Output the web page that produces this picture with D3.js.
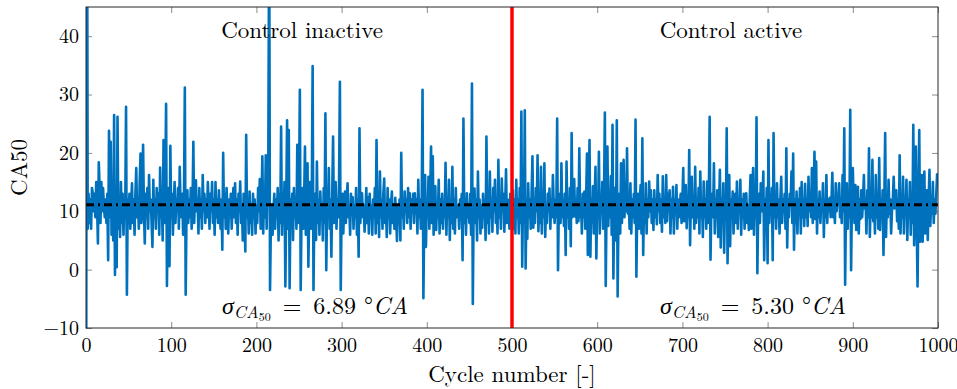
<!DOCTYPE html>
<html>
<head>
<meta charset="utf-8">
<script src="https://cdn.jsdelivr.net/npm/d3@7"></script>
<style>
  body { margin: 0; background: #fff; }
</style>
</head>
<body>
<div id="container"></div>
<script>
// CA50 per cycle (cycles 0-499: control off, 500-999: control on)
const ca50Inactive = [
  -60, 90, 7, 13, 8, 12, 7, 14, 13, 10, 13, 9, 15, 11, 4.5, 18.4, 14, 8, 15, 10, 14, 11, 9, 12, 8, 13, 1.6, 23.8, 9, 21.9, 6, 12, 5, 26.5, -0.9, 14, 0.4, 26.2, 7, 12, 5.6, 15, 8, 13, 6, 11, 9, 27.9, -4.3, 12,
  9, 13, 7, 11, 14.8, 8, 12, 6, 13, 17.4, 9, 12, 7, 15, 19.9, 8, 11, 21.4, 10, 4.5, 13, 9, 14, 7, 16.2, 10, 12, 8, 3.9, 15.4, 9, 12, 7, 14, 10, 13, 6, 17.5, 9, 12, 5, 22.2, 8, 13, 28.4, -2.8, 10, 14, 0.6, 21.2,
  9, 13, 6, 11, 15, 8, 12, 10, 14, 7, 17.6, 11, 9, 13, 6, 12, 31.2, -4.3, 10, 13.6, 8, 12, 9, 14, 7, 11, 21.9, 8, 13, 15.3, 10, 12, 6.2, 14, 9, 12, 7, 16.2, 10, 13, 8, 12, 9, 15, 11, 7, 13, 10, 15, 8,
  12, 6, 15, 9, 12, 8, 13.6, 10, 7, 12, 3.4, 20, 9, 13, 7, 14, 10, 6.2, 12, 9, 13, 7, 11, 14, 9, 14.8, 8, 12, 6, 13, 10, 15.1, 8, 11, 5, 13, 9, 3.1, 23.1, 9, 12, 6.2, 13.4, 8, 11, 6, 13, 9, 12, 6.2,
  11, 8, 14, 10, 15.5, 7, 12, 19.4, 6.2, 13, 9, 19.6, 7, 14, 19.6, 60, -3.5, 8, 11, 6, 10.2, 13, 7, 12, 9, 14, 5, 13, 8, 24.5, 6, 12, 9, 15, -2.9, 11, 25.6, 7, 23.9, -3.2, 12, 8, 13, 5.1, 14, 9, 12, 7, 21.4, 8,
  13, 30.8, -3.5, 10, 14, 7, 12, 21.1, 6, 13, 18.2, 0.5, 11, 15, 7, 12, 34.9, -3.5, 10, 13, 5.1, 18.5, 8, 12, 6, 13.4, 9, 11, 5, 14, 8, 26.8, -0.1, 12, 9, 17.4, 7, 12, 2.2, 13, 22.8, 8, 11, 15, 7, 12, 9, 14.8, 32.2, -3.5,
  10, 13, 6.2, 11, 13.4, 8, 12, 14.8, 9, 11, 6, 13, 10, 12.4, 7, 11, 9, 14, 6, 12, 2.2, 24.2, 8, 12, 13.1, 9, 11, 6.5, 10, 14, 8, 12.4, 6.2, 13, 9, 11, 6, 12, 9, 14, 6.2, 22.2, 8, 12, 5.6, 16.8, 9, 12, 7, 13,
  15.6, 8, 11, 5.6, 14, 9, 12, 6.2, 11, 13.4, 8, 11, 7, 12.3, 9, 4.9, 11, 8, 12, 5, 20, 9, 12, 7, 13.4, 10, 12, 8, 14, 9, 13.1, 7, 12, 10, 13, 8, 13.1, 9.6, 12, 6.2, 15.4, 9, 12, 7, 11, 30.8, -4.9, 9, 16.2, 3.9,
  12, 9, 15.9, 7, 13, 21.1, 8, 19.4, 6, 12, 14.3, 6.8, 11, 9, 15.4, 6.2, 12, 8, 13, 7, 11, 9, 18.3, 6, 12, 9, 15.4, 5.1, 12, 8, 17.6, 7, 12, 6.2, 14, 9, 11, 10.5, 7, 12, 9, 13, 1.6, 25.9, 8, 12, 6, 13.1, 9, 11,
  8, 13, 6, 31.9, -5.9, 11, 13.9, 8, 12, 5, 16.8, 9, 12, 6.2, 11, 7.2, 13, 9, 12, 5.1, 22.8, 8, 12, 6.2, 16.8, 9, 12, 6.5, 14, 10, 15.4, 8, 12, 6.2, 18.8, 9, 12, 7, 15.6, 10, 13, 6.5, 11, 17.2, 8, 12, 10.9, 7, 13, 11
];
const ca50Active = [
  8, 13.6, 7, 12, 6.2, 15.4, 9, 12, 6.2, 14, 8, 27.1, 0.5, 13, 8, 27.3, 0.2, 12, 5.3, 14.8, 9, 12, 7, 13, 19.4, 7.2, 12, 8, 14, 10, 19.6, 6.6, 12, 8, 17.6, 6.2, 13, 9, 18.2, 5.6, 11, 8, 13, 10, 13.9, 7, 12, 9, 16.2, 10.9,
  8, 12, 9, 25.9, -0.1, 11, 13, 8, 18.2, 9, 12, 7.5, 13, 2.5, 18.5, 9, 12, 7, 14, 4, 23.4, 9, 12, 15.5, 9.1, 12, 8, 14, 8.3, 20.8, 9, 12, 6.2, 13, 9, 13.4, 7, 12, 19.9, 2.5, 14, 22.2, 2.2, 12, 8, 14.3, 6.2, 12, 17.6, 1.9,
  12, 9, 20.2, 6.2, 12, 10, 15, 7, 13, 26.9, -2.8, 11, 21.1, 7.5, 13, 9, 16, 6, 24.8, -1.5, 12, 14, 5, 25.6, -4.6, 10, 13, 6.2, 18.2, 8, 12, 18.8, 9, 13, 10, 20.8, 9.6, 12, 7, 14.8, 6.2, 12, 9, 13, 8, 25.7, -1.2, 11, 13, 7,
  12, 14.5, 6.2, 22.5, 2.5, 12, 8, 14.8, 6.2, 12, 9, 15.1, 10, 13.6, 8, 12, 6.8, 13.6, 9, 12, 7.8, 16.2, 10, 13, 8, 12, 6.5, 16, 9, 12, 8, 16.2, 8.3, 13, 10, 13.6, 6.2, 12, 9, 14.2, 6.2, 12, 10, 14.5, 7, 12, 9, 11, 13, 8,
  12, 17.4, 8.3, 12, 14.5, 7.1, 11, 9, 20.5, 4.2, 12, 15.9, 9, 12, 7, 17.6, 8, 12, 9, 14, 6.2, 16.8, 9, 12, 5.6, 15.1, 9, 12, 7, 15.1, 8, 12, 26.2, 1.7, 11, 13, 9, 18.2, 6.2, 12, 9, 13.6, 5.6, 11, 17.1, 3.8, 12, 9, 14.8, 2.9,
  12, 9, 24.2, 1.1, 11, 16.2, 4, 12, 9, 13.4, 6.2, 11, 13, 8, 15.1, 7, 12, 10, 15.4, 6, 12, 9, 13, 7, 12, 13.1, 8, 11, 6.8, 12, 16.2, 7, 12, 17.4, 6, 12, 9, 26.1, -0.6, 11, 13, 8, 14.8, 10, 12, 16.8, 1.6, 12, 9, 14,
  1.1, 22.2, 8, 12, 10, 14, 1.6, 23.4, 9, 12, 7, 14.8, 9, 12, 6.2, 12, 15.9, 8, 12, 10, 13, 7, 20.8, 3.8, 12, 9, 13, 11, 16.8, 8, 19.9, 3.4, 12, 8, 13.4, 6.2, 12, 9.6, 14, 6.2, 15, 9, 12, 7.5, 14.7, 9, 12, 7.5, 15.9, 10,
  13, 9, 17.4, 8, 12, 20.2, 8.7, 18.5, 6.2, 12, 9, 13.4, 8, 12, 10.5, 14.8, 5.6, 12, 9, 16.2, 8, 12, 10, 12.3, 9, 12, 16.6, 9, 12, 8, 14.8, 10, 12, 11.5, 14.8, 9, 12, 8, 16.2, 10, 24.2, -2.6, 11, 14.8, 7, 12, 9, 27.4, -0.1, 12,
  17.4, 11.5, 8, 14.5, 6.8, 12, 14.2, 6.2, 12, 8.7, 13.6, 9, 12, 16.2, 10.5, 12, 6.2, 13.6, 9, 20.8, 5.6, 12, 9, 18.8, 8.3, 12, 6.2, 16.2, 9, 12, 7, 19.1, 6.8, 12, 9, 13.6, 2.5, 12, 23.4, 5.6, 12, 9, 15.4, 9.6, 12, 6.2, 10.2, 12, 15.9, 10.5,
  12, 13.6, 8.3, 12, 7, 19.6, 6.2, 12, 9, 15.9, 6.2, 12, 10, 15.4, 5.1, 12, 9, 15, 6, 12, 8, 24.8, 4.2, 12, 21.1, 8, -2.9, 12, 23.9, 4.8, 12, 16.2, 4.8, 12, 16.8, 6.2, 12, 13.6, 5.1, 12, 17.1, 7.5, 12, 9.6, 15, 8, 12, 9.6, 13, 16.5
];
const meanCA50 = 11.1;
const controlStart = 500;
const xTicks = [0, 100, 200, 300, 400, 500, 600, 700, 800, 900, 1000];
const yTicks = [-10, 0, 10, 20, 30, 40];
const phaseLabels = ["Control inactive", "Control active"];
const sigmaValues = ["6.89", "5.30"];

const ca50 = ca50Inactive.concat(ca50Active);

const width = 957, height = 389;
const plotL = 86, plotR = 938, plotT = 7, plotB = 328;
const lm = "Latin Modern Roman";

const svg = d3.select("#container").append("svg")
  .attr("width", width)
  .attr("height", height);

const x = d3.scaleLinear().domain([0, 1000]).range([plotL, plotR]);
const y = d3.scaleLinear().domain([-10, 45]).range([plotB, plotT]);

svg.append("clipPath").attr("id", "plotclip")
  .append("rect")
  .attr("x", plotL).attr("y", plotT)
  .attr("width", plotR - plotL).attr("height", plotB - plotT);

// ticks on all four sides, pointing inward
const tickCol = "#8c8c8c";
let gx = svg.append("g")
  .attr("transform", `translate(0,${plotB})`)
  .call(d3.axisBottom(x).tickValues(xTicks).tickSize(-6).tickPadding(10).tickFormat(d3.format("d")));
let gxTop = svg.append("g")
  .attr("transform", `translate(0,${plotT})`)
  .call(d3.axisTop(x).tickValues(xTicks).tickSize(-6).tickFormat(""));
let gy = svg.append("g")
  .attr("transform", `translate(${plotL},0)`)
  .call(d3.axisLeft(y).tickValues(yTicks).tickSize(-6).tickPadding(7).tickFormat(d => d < 0 ? "\u2212" + Math.abs(d) : d));
let gyRight = svg.append("g")
  .attr("transform", `translate(${plotR},0)`)
  .call(d3.axisRight(y).tickValues(yTicks).tickSize(-6).tickFormat(""));

[gx, gxTop, gy, gyRight].forEach(g => {
  g.attr("font-family", lm).attr("font-size", 20);
  g.select(".domain").remove();
  g.selectAll(".tick line").attr("stroke", tickCol).attr("stroke-width", 1);
  g.selectAll(".tick text").attr("font-family", lm).attr("font-size", 20).attr("fill", "#000");
});

const plot = svg.append("g").attr("clip-path", "url(#plotclip)");

const line = d3.line()
  .x((d, i) => x(i))
  .y(d => y(d));

plot.append("path")
  .datum(ca50)
  .attr("fill", "none")
  .attr("stroke", "#0072BD")
  .attr("stroke-width", 2.6)
  .attr("stroke-linejoin", "round")
  .attr("d", line);

// mean value, dash-dot
plot.append("line")
  .attr("x1", x(0)).attr("x2", x(1000))
  .attr("y1", y(meanCA50)).attr("y2", y(meanCA50))
  .attr("stroke", "#000")
  .attr("stroke-width", 3)
  .attr("stroke-dasharray", "8,4,2,4");

// control switch-on
plot.append("line")
  .attr("x1", x(controlStart)).attr("x2", x(controlStart))
  .attr("y1", plotT).attr("y2", plotB)
  .attr("stroke", "#ff0000")
  .attr("stroke-width", 3.5);

// box
svg.append("rect")
  .attr("x", plotL).attr("y", plotT)
  .attr("width", plotR - plotL).attr("height", plotB - plotT)
  .attr("fill", "none")
  .attr("stroke", "#262626")
  .attr("stroke-width", 1);

// phase labels
const centers = [x(250) + 3, x(750) + 6];
phaseLabels.forEach((t, i) => {
  svg.append("text")
    .attr("x", centers[i]).attr("y", 38)
    .attr("text-anchor", "middle")
    .attr("font-family", lm)
    .attr("font-size", 23)
    .text(t);
});

// sigma annotations
const sigmaX = [222, 660];
sigmaValues.forEach((v, i) => {
  const t = svg.append("text")
    .attr("x", sigmaX[i]).attr("y", 314)
    .attr("font-family", lm)
    .attr("font-size", 24);
  t.append("tspan").attr("font-style", "italic").text("\u03C3");
  t.append("tspan").attr("font-style", "italic").attr("font-size", 17).attr("dy", 4).text("CA");
  t.append("tspan").attr("font-size", 12).attr("dy", 3).text("50");
  t.append("tspan").attr("dy", -7).text("\u2002=\u2002" + v + " \u00B0");
  t.append("tspan").attr("font-style", "italic").text("CA");
});

// axis titles
svg.append("text")
  .attr("x", (plotL + plotR) / 2).attr("y", 382)
  .attr("text-anchor", "middle")
  .attr("font-family", lm)
  .attr("font-size", 23)
  .text("Cycle number [-]");

svg.append("text")
  .attr("transform", `translate(27,${(plotT + plotB) / 2}) rotate(-90)`)
  .attr("text-anchor", "middle")
  .attr("font-family", lm)
  .attr("font-size", 23)
  .text("CA50");
</script>
</body>
</html>
